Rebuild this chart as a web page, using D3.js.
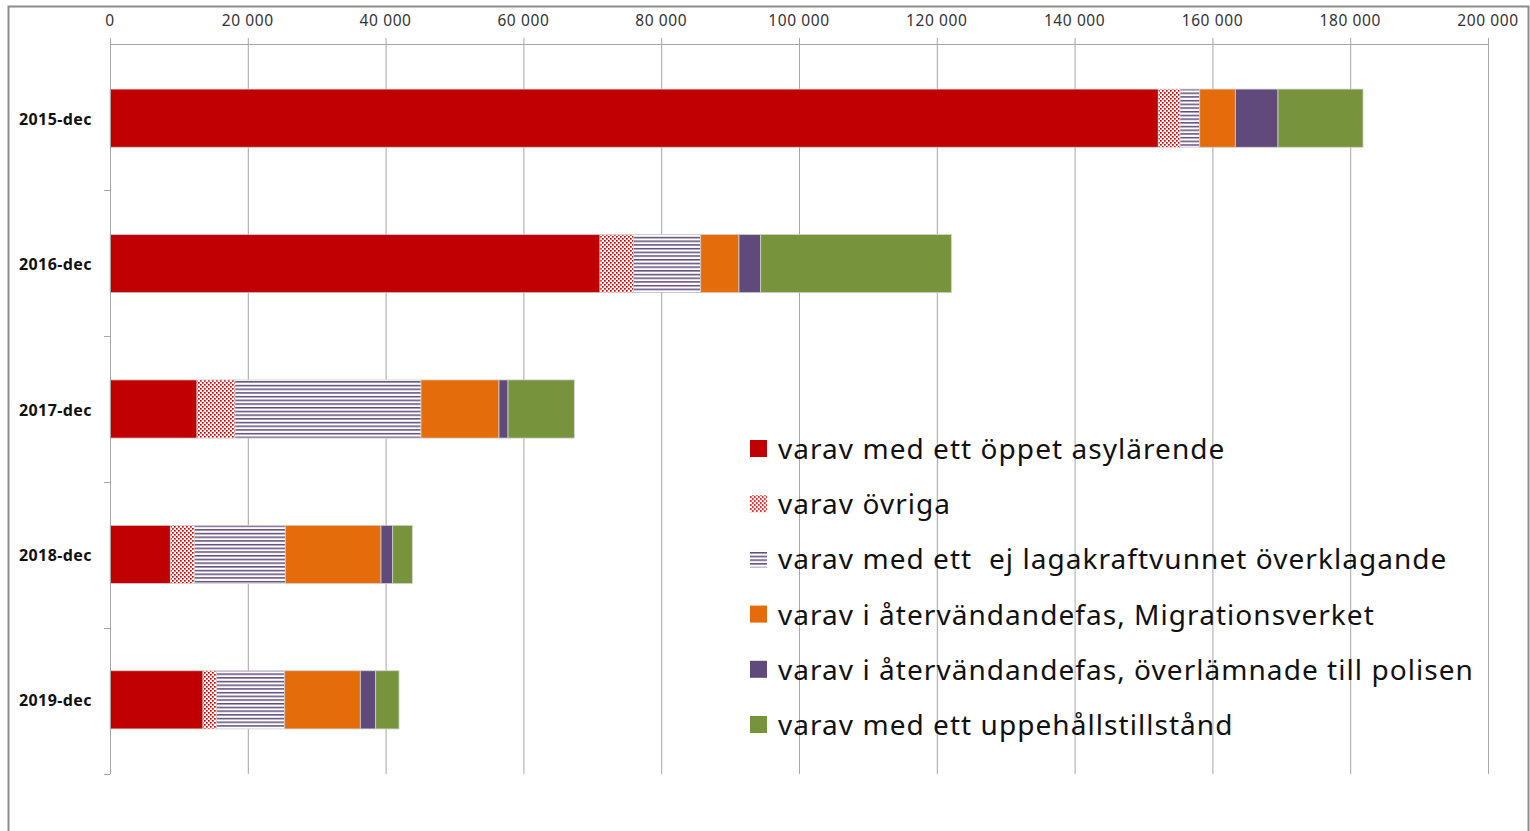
<!DOCTYPE html>
<html>
<head>
<meta charset="utf-8">
<script src="https://cdn.jsdelivr.net/npm/d3@7"></script>
<style>
    body { margin: 0; background: #fff; }
    svg { display: block; font-family: 'Noto Sans', sans-serif; }
    .legend text { white-space: pre; }
</style>
</head>
<body>
<div id="chart"></div>
<script>
var categories = ['2015-dec', '2016-dec', '2017-dec', '2018-dec', '2019-dec'];
var asyl = [152150, 71120, 12630, 8760, 13500];
var ovriga = [3150, 4840, 5510, 3480, 1980];
var overklagande = [2860, 9770, 27000, 13210, 9870];
var atervandMigr = [5170, 5560, 11320, 13880, 10980];
var atervandPolis = [6190, 3150, 1310, 1700, 2230];
var uppehall = [12340, 27670, 9620, 2850, 3390];
var seriesNames = [
    'varav med ett öppet asylärende',
    'varav övriga',
    'varav med ett  ej lagakraftvunnet överklagande',
    'varav i återvändandefas, Migrationsverket',
    'varav i återvändandefas, överlämnade till polisen',
    'varav med ett uppehållstillstånd'
];
var xTicks = [0, 20000, 40000, 60000, 80000, 100000, 120000, 140000, 160000, 180000, 200000];

var seriesValues = [asyl, ovriga, overklagande, atervandMigr, atervandPolis, uppehall];
var fills = ['#c00000', 'url(#dots)', 'url(#stripes)', '#e46c0a', '#604a7b', '#77933c'];

var width = 1530, height = 831;
var svg = d3.select('#chart').append('svg')
    .attr('width', width)
    .attr('height', height);

// patterns
var defs = svg.append('defs');
var dots = defs.append('pattern')
    .attr('id', 'dots')
    .attr('patternUnits', 'userSpaceOnUse')
    .attr('width', 4)
    .attr('height', 4);
dots.append('rect').attr('width', 4).attr('height', 4).attr('fill', '#fff');
dots.append('rect').attr('x', 0).attr('y', 0).attr('width', 1.7).attr('height', 1.7).attr('fill', '#d40000');
dots.append('rect').attr('x', 2).attr('y', 2).attr('width', 1.7).attr('height', 1.7).attr('fill', '#d40000');

var stripes = defs.append('pattern')
    .attr('id', 'stripes')
    .attr('patternUnits', 'userSpaceOnUse')
    .attr('width', 4)
    .attr('height', 3.7);
stripes.append('rect').attr('width', 4).attr('height', 3.7).attr('fill', '#fff');
stripes.append('rect').attr('y', 0).attr('width', 4).attr('height', 1.5).attr('fill', '#604a7b');

// frame
svg.append('path')
    .attr('d', 'M8.5,' + height + ' V6.5 H' + (width - 1.5) + ' V' + height)
    .attr('fill', 'none')
    .attr('stroke', '#8c8c8c')
    .attr('stroke-width', 2);

var x = d3.scaleLinear().domain([0, 200000]).range([110, 1488]);
var y = d3.scaleBand().domain(categories).range([44, 774])
    .paddingInner(0.6).paddingOuter(0.31);

var fmt = function(d) {
    return d3.format(',')(d).replace(/,/g, ' ');
};

// gridlines
svg.selectAll('line.grid').data(xTicks.slice(1)).enter()
    .append('line')
    .attr('class', 'grid')
    .attr('x1', function(d) { return x(d) + 0.5; })
    .attr('x2', function(d) { return x(d) + 0.5; })
    .attr('y1', 38)
    .attr('y2', 774)
    .attr('stroke', '#a6a6a6')
    .attr('stroke-width', 1);

// top axis line
svg.append('line')
    .attr('x1', x(0)).attr('x2', x(200000))
    .attr('y1', 44.5).attr('y2', 44.5)
    .attr('stroke', '#a6a6a6');

svg.selectAll('text.xtick').data(xTicks).enter()
    .append('text')
    .attr('class', 'xtick')
    .attr('x', function(d) { return x(d); })
    .attr('y', 26)
    .attr('text-anchor', 'middle')
    .attr('font-size', 15.5)
    .attr('letter-spacing', 0.6)
    .attr('fill', '#333')
    .text(fmt);

// stacked bars
var stackData = categories.map(function(c, i) {
    var row = { cat: c };
    seriesValues.forEach(function(s, k) { row['s' + k] = s[i]; });
    return row;
});
var stack = d3.stack().keys(seriesValues.map(function(s, k) { return 's' + k; }));
var layers = stack(stackData);

var groups = svg.selectAll('g.layer').data(layers).enter()
    .append('g')
    .attr('class', 'layer')
    .attr('fill', function(d, k) { return fills[k]; });

groups.selectAll('rect').data(function(d) { return d; }).enter()
    .append('rect')
    .attr('x', function(d) { return x(d[0]); })
    .attr('y', function(d) { return y(d.data.cat); })
    .attr('width', function(d) { return x(d[1]) - x(d[0]); })
    .attr('height', y.bandwidth())
    .attr('stroke', '#d0d0d0')
    .attr('stroke-width', 0.8);

// category axis
svg.append('line')
    .attr('x1', 110.5).attr('x2', 110.5)
    .attr('y1', 38).attr('y2', 774)
    .attr('stroke', '#a6a6a6');

var bounds = [];
categories.forEach(function(c, i) {
    bounds.push(44 + (i + 1) * 730 / categories.length);
});
svg.selectAll('line.ytick').data(bounds).enter()
    .append('line')
    .attr('class', 'ytick')
    .attr('x1', 104).attr('x2', 110)
    .attr('y1', function(d) { return Math.round(d) + 0.5; })
    .attr('y2', function(d) { return Math.round(d) + 0.5; })
    .attr('stroke', '#a6a6a6');

svg.selectAll('text.ylabel').data(categories).enter()
    .append('text')
    .attr('class', 'ylabel')
    .attr('x', 19)
    .attr('y', function(d) { return y(d) + y.bandwidth() / 2 + 6.5; })
    .attr('font-size', 16)
    .attr('font-weight', 'bold')
    .attr('letter-spacing', 0.4)
    .attr('fill', '#111')
    .text(function(d) { return d; });

// legend
var legend = svg.append('g').attr('class', 'legend').attr('transform', 'translate(750,449)');
var items = legend.selectAll('g').data(seriesNames).enter()
    .append('g')
    .attr('transform', function(d, k) { return 'translate(0,' + (k * 55.2) + ')'; });
items.append('rect')
    .attr('x', 0).attr('y', -9)
    .attr('width', 17).attr('height', 17)
    .attr('fill', function(d, k) { return fills[k]; });
items.append('text')
    .attr('x', 28)
    .attr('y', 10)
    .attr('font-size', 28)
    .attr('letter-spacing', 1.05)
    .attr('fill', '#111')
    .text(function(d) { return d; });
</script>
</body>
</html>
